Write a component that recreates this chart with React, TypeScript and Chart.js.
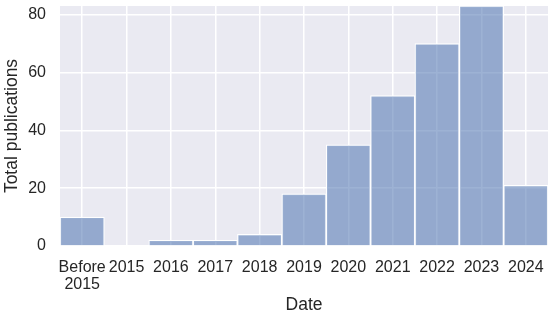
import React, { useEffect, useRef } from "react";
import { Chart, registerables } from "chart.js";

Chart.register(...registerables);

const categories: (string | string[])[] = [
  ["Before", "2015"], "2015", "2016", "2017", "2018", "2019", "2020", "2021", "2022", "2023", "2024",
];
const publications = [10, 0, 2, 2, 4, 18, 35, 52, 70, 83, 21];
const yTicks = [0, 20, 40, 60, 80];

const FONT = "'Liberation Sans', Arial, sans-serif";
const TEXT = "#262626";

const bgPlugin = {
  id: "plotBg",
  beforeDraw(chart: any) {
    const { ctx, chartArea } = chart;
    if (!chartArea) return;
    ctx.save();
    ctx.fillStyle = "#eaeaf2";
    ctx.fillRect(chartArea.left, chartArea.top, chartArea.right - chartArea.left, chartArea.bottom - chartArea.top);
    ctx.restore();
  },
};

export default function App() {
  const ref = useRef<HTMLCanvasElement>(null);
  useEffect(() => {
    if (!ref.current) return;
    const chart = new Chart(ref.current, {
      type: "bar",
      data: {
        labels: categories,
        datasets: [
          {
            data: publications,
            backgroundColor: "rgba(76,114,176,0.55)",
            borderColor: "#ffffff",
            borderWidth: 1.2,
            barPercentage: 1,
            categoryPercentage: 1,
          },
        ],
      },
      options: {
        responsive: false,
        animation: false,
        layout: { padding: { top: 6, right: 2, left: 0, bottom: 0 } },
        plugins: { legend: { display: false }, tooltip: { enabled: false } },
        scales: {
          x: {
            offset: true,
            afterFit(scale: any) {
              scale.height = 71;
              scale.paddingLeft = 0;
              scale.paddingRight = 0;
            },
            grid: { color: "#ffffff", lineWidth: 1.5, offset: false, drawTicks: false },
            border: { display: false },
            ticks: { color: TEXT, font: { family: FONT, size: 16, lineHeight: 1.05 }, padding: 13, maxRotation: 0, autoSkip: false },
            title: { display: true, text: "Date", color: TEXT, font: { family: FONT, size: 17.5 }, padding: { top: 0, bottom: 1 } },
          },
          y: {
            min: 0,
            max: 83,
            afterBuildTicks(scale: any) {
              scale.ticks = yTicks.map((v) => ({ value: v }));
            },
            afterFit(scale: any) {
              scale.width = 60;
              scale.paddingTop = 0;
              scale.paddingBottom = 0;
            },
            grid: { color: "#ffffff", lineWidth: 1.5, drawTicks: false },
            border: { display: false },
            ticks: { color: TEXT, font: { family: FONT, size: 16 }, padding: 14 },
            title: { display: true, text: "Total publications", color: TEXT, font: { family: FONT, size: 17.5 }, padding: { top: 2, bottom: 0 } },
          },
        },
      },
      plugins: [bgPlugin],
    });
    return () => chart.destroy();
  }, []);
  return (
    <div style={{ position: "fixed", left: 0, top: 0, width: 550, height: 317 }}>
      <canvas ref={ref} width={550} height={317} style={{ display: "block" }} />
    </div>
  );
}
